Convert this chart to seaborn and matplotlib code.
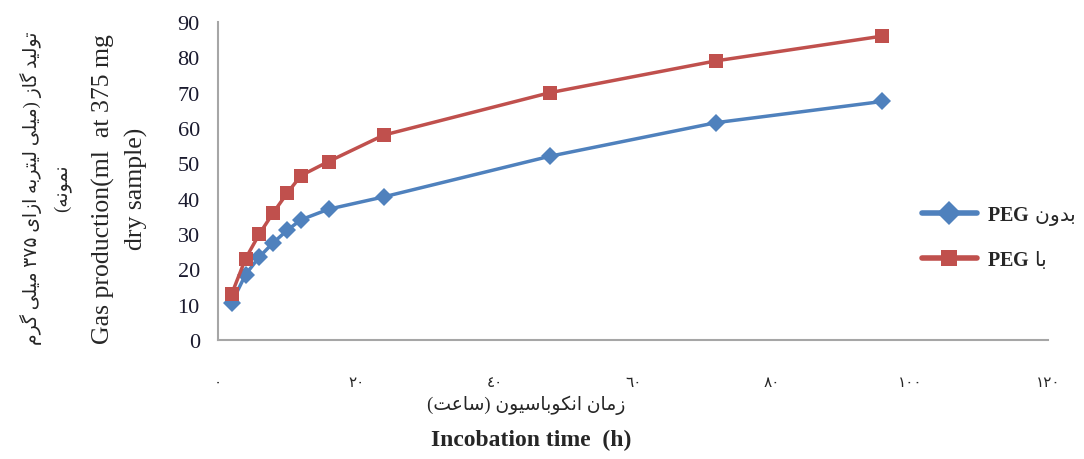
import pandas as pd
import matplotlib
matplotlib.use('Agg')
import matplotlib.pyplot as plt
import seaborn as sns

# Data
hours = [2, 4, 6, 8, 10, 12, 16, 24, 48, 72, 96]
gas_without_peg = [10.5, 18.5, 23.5, 27.5, 31, 34, 37, 40.5, 52, 61.5, 67.5]
gas_with_peg = [13, 23, 30, 36, 41.5, 46.5, 50.5, 58, 70, 79, 86]

x_ticks = [0, 20, 40, 60, 80, 100, 120]
x_tick_labels = ['٠', '٢٠', '٤٠', '٦٠', '٨٠', '١٠٠', '١٢٠']
y_ticks = [0, 10, 20, 30, 40, 50, 60, 70, 80, 90]

label_without = 'بدون PEG'
label_with = 'با PEG'
ylabel_fa = ['تولید گاز (میلی لیتربه ازای ۳۷۵ میلی گرم', 'نمونه)']
ylabel_en = 'Gas production(ml  at 375 mg\ndry sample)'
xlabel_fa = 'زمان انکوباسیون (ساعت)'
xlabel_en = 'Incobation time  (h)'


# --- minimal Persian shaping + right-to-left ordering (matplotlib has none) ---
# isolated, final, initial, medial
FORMS = {
    'ا': ('\uFE8D', '\uFE8E', None, None),
    'ب': ('\uFE8F', '\uFE90', '\uFE91', '\uFE92'),
    'ت': ('\uFE95', '\uFE96', '\uFE97', '\uFE98'),
    'د': ('\uFEA9', '\uFEAA', None, None),
    'ر': ('\uFEAD', '\uFEAE', None, None),
    'ز': ('\uFEAF', '\uFEB0', None, None),
    'س': ('\uFEB1', '\uFEB2', '\uFEB3', '\uFEB4'),
    'ع': ('\uFEC9', '\uFECA', '\uFECB', '\uFECC'),
    'ل': ('\uFEDD', '\uFEDE', '\uFEDF', '\uFEE0'),
    'م': ('\uFEE1', '\uFEE2', '\uFEE3', '\uFEE4'),
    'ن': ('\uFEE5', '\uFEE6', '\uFEE7', '\uFEE8'),
    'ه': ('\uFEE9', '\uFEEA', '\uFEEB', '\uFEEC'),
    'و': ('\uFEED', '\uFEEE', None, None),
    'ی': ('\uFBFC', '\uFBFD', '\uFBFE', '\uFBFF'),
    'ک': ('\uFB8E', '\uFB8F', '\uFB90', '\uFB91'),
    'گ': ('\uFB92', '\uFB93', '\uFB94', '\uFB95'),
}
MIRROR = {'(': ')', ')': '('}


def is_ltr(ch):
    return ch.isascii() and ch.isalnum() or '\u0660' <= ch <= '\u0669' or '\u06F0' <= ch <= '\u06F9'


def fa(text):
    """Shape Persian letters and return the string in visual order."""
    shaped = []
    for i, ch in enumerate(text):
        if ch not in FORMS:
            shaped.append(ch)
            continue
        prev = text[i - 1] if i > 0 else ''
        nxt = text[i + 1] if i + 1 < len(text) else ''
        join_prev = prev in FORMS and FORMS[prev][2] is not None
        join_next = FORMS[ch][2] is not None and nxt in FORMS
        iso, fin, ini, med = FORMS[ch]
        if join_prev and join_next:
            shaped.append(med)
        elif join_prev:
            shaped.append(fin)
        elif join_next:
            shaped.append(ini)
        else:
            shaped.append(iso)
    # split into LTR / RTL runs
    runs = []
    for ch in shaped:
        ltr = is_ltr(ch)
        if runs and runs[-1][0] == ltr:
            runs[-1][1].append(ch)
        else:
            runs.append([ltr, [ch]])
    out = ''
    for ltr, chars in reversed(runs):
        if ltr:
            out += ''.join(chars)
        else:
            out += ''.join(MIRROR.get(c, c) for c in reversed(chars))
    return out


def main():
    sns.set_style('white')
    plt.rcParams['font.family'] = ['Liberation Serif', 'DejaVu Sans']
    plt.rcParams['mathtext.fontset'] = 'custom'
    plt.rcParams['mathtext.bf'] = 'Liberation Serif:bold'

    # "PEG" bold serif (mathtext), Persian word regular in DejaVu Sans
    lab_without = fa(label_without).replace('PEG', r'$\mathbf{PEG}$')
    lab_with = fa(label_with).replace('PEG', r'$\mathbf{PEG}$')
    n = len(hours)
    df = pd.DataFrame({
        'hour': hours + hours,
        'gas': gas_without_peg + gas_with_peg,
        'group': [lab_without] * n + [lab_with] * n,
    })

    fig = plt.figure(figsize=(10.84, 4.6), dpi=100)
    ax = fig.add_axes([0.201, 0.259, 0.766, 0.691])

    sns.lineplot(data=df, x='hour', y='gas', hue='group', style='group',
                 markers={lab_without: 'D', lab_with: 's'}, dashes=False,
                 palette={lab_without: '#4F81BD', lab_with: '#C0504D'},
                 linewidth=2.5, markersize=9.5, markeredgewidth=0, ax=ax)

    ax.set_xlim(0, 120)
    ax.set_ylim(0, 90)
    ax.set_xticks(x_ticks)
    ax.set_xticklabels(x_tick_labels, fontsize=11)
    ax.set_yticks(y_ticks)
    ax.set_yticklabels([str(v) for v in y_ticks], fontsize=16, color='#1a1a2e')
    ax.tick_params(axis='x', length=0, pad=26)
    ax.tick_params(axis='y', length=0, pad=13)
    ax.set_xlabel('')
    ax.set_ylabel('')

    sns.despine(ax=ax)
    for side in ['left', 'bottom']:
        ax.spines[side].set_color('#A6A6A6')
        ax.spines[side].set_linewidth(1.5)

    leg = ax.legend(loc='center left', bbox_to_anchor=(0.834, 0.482),
                    bbox_transform=fig.transFigure, frameon=False,
                    prop={'family': 'DejaVu Sans', 'size': 14.5},
                    handlelength=2.7, labelspacing=1.05, handletextpad=0.5)
    for h in leg.legend_handles:
        h.set_linewidth(4)
        h.set_markersize(12)

    # axis titles, Persian and English
    fig.text(0.485, 0.118, fa(xlabel_fa), ha='center', va='center', fontsize=13.5)
    fig.text(0.49, 0.043, xlabel_en, ha='center', va='center', fontsize=17,
             fontweight='bold')
    fig.text(0.042, 0.59, fa(ylabel_fa[0]) + '\n' + fa(ylabel_fa[1]),
             rotation=90, ha='center', va='center', fontsize=13.5,
             linespacing=1.9)
    fig.text(0.111, 0.59, ylabel_en, rotation=90, ha='center', va='center',
             fontsize=18.5, linespacing=1.55)

    fig.savefig('out.png', dpi=100)
    plt.close(fig)


if __name__ == '__main__':
    main()
